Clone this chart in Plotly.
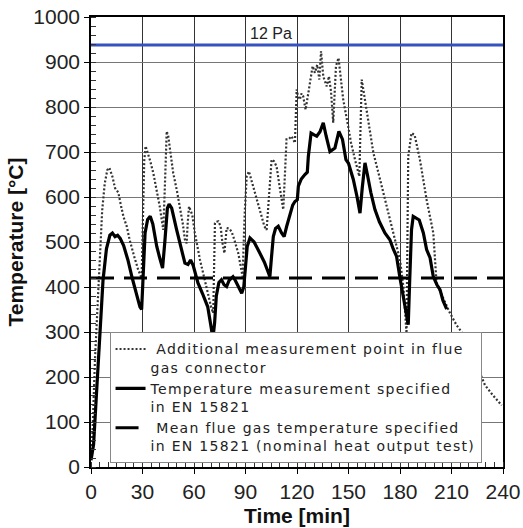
import plotly.graph_objects as go

# --- data ---
solid_t = [0, 1.5, 3, 5, 7, 9, 11, 12.5, 14, 15.5, 17, 19, 21.5, 24, 26.5, 28.5, 29.5, 30.5, 31.5, 33,
           34.5, 36, 38.3, 40, 41.7, 43, 44.5, 45.5, 47, 49.9, 52, 54.7, 56.5, 58, 59.5, 62.3, 65, 68,
           70, 71, 72, 73, 74.5, 76, 77.5, 79, 80.5, 82.7, 84, 86, 87.8, 89, 90, 91, 92.6, 95, 98.4,
           101, 103, 104.2, 105, 106.2, 107.5, 109.1, 111, 112.5, 114, 115.9, 117.5, 118.8, 120.2,
           120.8, 122.5, 124.6, 126, 126.6, 127.5, 128.2, 130, 131.5, 133.4, 135.3, 137, 139.2, 142.1,
           144.4, 146.5, 148.5, 150, 152.8, 155, 156.7, 158, 159.6, 161, 163, 165.4, 168, 171.2, 174.1,
           176, 178, 180, 181.9, 183.5, 184.8, 185.7, 186.7, 187.7, 189.5, 191.2, 193.6, 195.5, 197.5,
           199.4, 201.5, 203.3, 205, 207.2]
solid_T = [15, 50, 150, 275, 415, 485, 515, 520, 512, 515, 508, 492, 460, 420, 385, 356, 350, 430, 520, 550,
           557, 540, 490, 465, 442, 500, 575, 584, 575, 527, 495, 453, 450, 460, 448, 409, 385, 356,
           310, 285, 320, 380, 410, 416, 405, 401, 415, 423, 415, 400, 386, 400, 440, 490, 509, 500, 475,
           455, 435, 423, 460, 512, 530, 535, 520, 512, 535, 564, 582, 590, 594,
           624, 640, 650, 655, 690, 730, 742, 738, 735, 745, 765, 735, 701, 709,
           746, 728, 683, 675, 639, 600, 564, 620, 676, 650, 610, 572, 545, 520, 505,
           485, 468, 420, 379, 340, 316, 420, 527, 557, 552, 549, 520, 483, 465,
           423, 405, 394, 370, 351]

dotted_t = [0, 1, 2.3, 3, 4.3, 5.2, 6.5, 8, 9.5, 10.7, 12.5, 14, 15.9, 17.5, 19, 20.8, 22.5, 25, 27.5, 29.5,
            30.3, 31, 31.8, 33, 34.5, 36.3, 38, 40, 41.2, 42.1, 43, 44.1, 45, 46.2, 47.9, 50, 51.8, 53.5,
            54.7, 55.7, 56.3, 57.1, 58, 59, 60.5, 63.5, 66, 68.3, 70, 71.2, 72.2, 73, 74.2, 75.5, 76.5,
            77.7, 79, 80.5, 81.9, 83.5, 85.8, 87, 88.3, 89.5, 90.7, 92, 94, 96.5, 99, 101, 102.3, 103.5,
            104.3, 105.2, 106.5, 108.1, 110, 112, 113.9, 115, 116.9, 118.8, 119.8, 120.8, 121.7, 122.6,
            123.6, 125, 126.6, 128, 129.1, 130.4, 131.8, 133, 134, 135.3, 137.3, 138.6, 139.8, 141.1,
            142.7, 144.2, 145.5, 146.9, 149.8, 151.5, 153.8, 156.3, 157.7, 159.6, 162, 164.5, 168,
            171.2, 174, 176.1, 180, 182, 183.8, 184.8, 186.7, 188.5, 190, 191.6, 195.5, 199.4, 201.3,
            205, 209.1, 213, 217.8, 222, 226, 229.5, 234, 239.2]
dotted_T = [20, 90, 237, 290, 386, 482, 570, 630, 660, 665, 645, 620, 610, 580, 555, 535, 505, 470, 438, 420,
            560, 680, 713, 700, 680, 653, 620, 580, 549, 527, 620, 746, 735, 705, 653, 615, 579, 540,
            505, 497, 540, 579, 570, 560, 520, 460, 420, 379, 355, 342, 542, 545, 546, 535, 500,
            475, 531, 530, 523, 505, 475, 450, 423, 560, 646, 657, 630, 594, 560, 535, 527, 600,
            646, 683, 680, 668, 620, 572, 728, 728, 735, 720, 839, 820, 817, 830,
            824, 794, 831, 860, 891, 876, 894, 861, 924, 868, 846, 868, 835, 765,
            891, 909, 870, 817, 757, 720, 683, 646, 861, 817, 760, 698, 645,
            594, 555, 520, 460, 400, 297, 690, 742, 738, 710, 683, 594, 520, 408,
            375, 342, 315, 290, 250, 215, 182, 160, 137]

mean_t = [0, 240]
mean_T = [420, 420]
limit_t = [0, 240]
limit_T = [938, 938]
limit_label = "12 Pa"

legend_lines = [(" Additional measurement point in flue", "gas connector"),
                ("Temperature measurement specified", "in EN 15821"),
                (" Mean flue gas temperature specified", "in EN 15821 (nominal heat output test)")]
span = '<span style="letter-spacing:1.3px">{}</span>'
names = ["<br>".join(span.format(s) for s in pair) for pair in legend_lines]

fig = go.Figure()
fig.add_trace(go.Scatter(x=limit_t, y=limit_T, mode="lines", showlegend=False,
                         line=dict(color="#3552c0", width=3), hoverinfo="skip"))
fig.add_trace(go.Scatter(x=dotted_t, y=dotted_T, mode="lines", name=names[0],
                         line=dict(color="#333333", width=2.2, dash="2px,2px")))
fig.add_trace(go.Scatter(x=solid_t, y=solid_T, mode="lines", name=names[1],
                         line=dict(color="black", width=3.2)))
fig.add_trace(go.Scatter(x=mean_t, y=mean_T, mode="lines", name=names[2],
                         line=dict(color="black", width=3, dash="23px,10px")))

fig.add_annotation(x=105, y=limit_T[0], text=limit_label, showarrow=False, yanchor="bottom",
                   yshift=1, font=dict(size=16, color="#222", family="Liberation Sans, Arial"))

font = "Liberation Sans, Arial, sans-serif"
fig.update_layout(
    width=523, height=528,
    margin=dict(l=91, r=20, t=17, b=61),
    paper_bgcolor="white", plot_bgcolor="white",
    font=dict(family=font, color="#222"),
    showlegend=True,
    legend=dict(x=0.045, y=0.008, xanchor="left", yanchor="bottom",
                bgcolor="white", bordercolor="#888", borderwidth=1,
                font=dict(size=14, color="#222", family="DejaVu Sans, sans-serif"), valign="top",
                tracegroupgap=0, itemwidth=30),
    xaxis=dict(range=[0, 240], dtick=30, tick0=0, showgrid=True, gridcolor="#333", gridwidth=1,
               showline=True, linecolor="black", linewidth=1.5, mirror=True,
               ticks="outside", ticklen=5, tickcolor="black", automargin=False,
               tickfont=dict(size=21, color="#222"),
               minor=dict(dtick=5, ticks="inside", ticklen=5, tickcolor="#333", showgrid=False),
               title=dict(text="<b>Time [min]</b>", font=dict(size=21, color="#111"), standoff=6),
               zeroline=False),
    yaxis=dict(range=[0, 1000], dtick=100, tick0=0, showgrid=True, gridcolor="#777", gridwidth=1,
               showline=True, linecolor="black", linewidth=1.5, mirror=True,
               ticks="outside", ticklen=5, tickcolor="black", automargin=False,
               tickfont=dict(size=21, color="#222"),
               minor=dict(dtick=20, ticks="inside", ticklen=5, tickcolor="#333", showgrid=False),
               title=dict(text="<b>Temperature [°C]</b>", font=dict(size=21, color="#111"), standoff=4),
               zeroline=False),
)

fig.write_html("out.html")
